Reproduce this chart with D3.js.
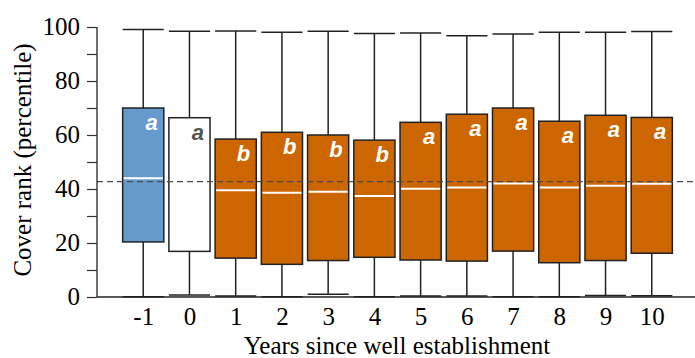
<!DOCTYPE html>
<html>
<head>
<meta charset="utf-8">
<script src="https://cdn.jsdelivr.net/npm/d3@7"></script>
<style>
  html, body { margin: 0; padding: 0; background: #fff; }
  svg { display: block; }
  .serif { font-family: "Liberation Serif", "Times New Roman", Times, serif !important; }
  .sansbi { font-family: "Liberation Sans", Arial, sans-serif !important; font-weight: bold; font-style: italic; }
</style>
</head>
<body>
<svg id="chart" width="695" height="358"></svg>
<script>
// ---- data ----
const years = [-1, 0, 1, 2, 3, 4, 5, 6, 7, 8, 9, 10];
const whiskerLow = [0.1, 0.7, 0.4, 0.1, 1.0, 0.1, 0.4, 0.4, 0.1, 0.1, 0.6, 0.5];
const q1 = [20.4, 16.9, 14.4, 12.1, 13.5, 14.7, 13.7, 13.3, 17.0, 12.7, 13.5, 16.2];
const medians = [44.0, 43.0, 39.5, 38.6, 39.0, 37.4, 40.1, 40.6, 42.0, 40.6, 41.2, 41.9];
const q3 = [70.0, 66.4, 58.5, 61.0, 60.0, 58.1, 64.7, 67.7, 70.0, 65.1, 67.3, 66.5];
const whiskerHigh = [99.1, 98.4, 98.5, 98.1, 98.4, 97.6, 97.8, 96.8, 97.4, 98.1, 98.1, 98.3];
const groups = ["a", "a", "b", "b", "b", "b", "a", "a", "a", "a", "a", "a"];
const periods = ["before", "establishment", "after", "after", "after", "after", "after", "after", "after", "after", "after", "after"];
const referenceLine = 42.7;
const yTicks = [0, 10, 20, 30, 40, 50, 60, 70, 80, 90, 100];
const yLabelTicks = [0, 20, 40, 60, 80, 100];

// ---- styles ----
const fillColor = { before: "#6699CC", establishment: "#FFFFFF", after: "#CC6600" };
const letterColor = { before: "#FFFFFF", establishment: "#555555", after: "#FFFFFF" };

const svg = d3.select("#chart");
const x = d3.scaleLinear().domain([-2, 11]).range([97, 698]);
const y = d3.scaleLinear().domain([0, 100]).range([297, 27]);
const halfW = 0.445;

const rows = years.map((yr, i) => ({
  yr, lo: whiskerLow[i], q1: q1[i], med: medians[i], q3: q3[i], hi: whiskerHigh[i],
  grp: groups[i], period: periods[i]
}));

const g = svg.append("g");

// whiskers
g.selectAll(".whisk").data(rows).join("line")
  .attr("x1", d => x(d.yr)).attr("x2", d => x(d.yr))
  .attr("y1", d => y(d.hi)).attr("y2", d => y(d.lo))
  .attr("stroke", "#222").attr("stroke-width", 1.5);
// caps
g.selectAll(".capHi").data(rows).join("line")
  .attr("x1", d => x(d.yr - halfW)).attr("x2", d => x(d.yr + halfW))
  .attr("y1", d => y(d.hi)).attr("y2", d => y(d.hi))
  .attr("stroke", "#222").attr("stroke-width", 1.5);
g.selectAll(".capLo").data(rows).join("line")
  .attr("x1", d => x(d.yr - halfW)).attr("x2", d => x(d.yr + halfW))
  .attr("y1", d => y(d.lo)).attr("y2", d => y(d.lo))
  .attr("stroke", "#222").attr("stroke-width", 1.5);

// boxes
g.selectAll(".box").data(rows).join("rect")
  .attr("x", d => x(d.yr - halfW))
  .attr("width", d => x(d.yr + halfW) - x(d.yr - halfW))
  .attr("y", d => y(d.q3))
  .attr("height", d => y(d.q1) - y(d.q3))
  .attr("fill", d => fillColor[d.period])
  .attr("stroke", "#222").attr("stroke-width", 1.5);

// medians
g.selectAll(".med").data(rows).join("line")
  .attr("x1", d => x(d.yr - halfW) + 1).attr("x2", d => x(d.yr + halfW) - 1)
  .attr("y1", d => y(d.med)).attr("y2", d => y(d.med))
  .attr("stroke", "#fff").attr("stroke-width", 2);

// letters
g.selectAll(".lbl").data(rows).join("text")
  .attr("class", "sansbi")
  .attr("x", d => x(d.yr + halfW) - 6)
  .attr("y", d => y(d.q3) + 22)
  .attr("text-anchor", "end")
  .style("font-size", "22px")
  .attr("fill", d => letterColor[d.period])
  .text(d => d.grp);

// reference dashed line
svg.append("line")
  .attr("x1", x(-2)).attr("x2", 695)
  .attr("y1", y(referenceLine)).attr("y2", y(referenceLine))
  .attr("stroke", "#4a4a4a").attr("stroke-width", 1.2)
  .attr("stroke-dasharray", "6,4");

// y axis
const yAxis = d3.axisLeft(y).tickValues(yTicks).tickSize(10)
  .tickFormat(d => yLabelTicks.includes(d) ? d : "");
const ya = svg.append("g").attr("transform", `translate(${x(-2)},0)`).call(yAxis);
ya.attr("font-family", null).attr("font-size", null);
ya.select(".domain").attr("stroke", "#222").attr("stroke-width", 1.3).attr("d", `M0,${y(100)}V${y(0)}`);
ya.selectAll(".tick line").attr("stroke", "#333").attr("stroke-width", 1.2);
ya.selectAll(".tick text")
  .attr("class", "serif")
  .style("font-size", "25px").attr("fill", "#000")
  .attr("x", -17).attr("dy", "0.28em");

// x axis
const xAxis = d3.axisBottom(x).tickValues(years).tickSize(0).tickFormat(d => d);
const xa = svg.append("g").attr("transform", `translate(0,${y(0)})`).call(xAxis);
xa.attr("font-family", null).attr("font-size", null);
xa.select(".domain").attr("stroke", "#222").attr("stroke-width", 1.3).attr("d", `M${x(-2)},0H695`);
xa.selectAll(".tick text")
  .attr("class", "serif")
  .style("font-size", "25px").attr("fill", "#000")
  .attr("y", 0).attr("dy", 28);

// axis titles
svg.append("text")
  .attr("class", "serif")
  .attr("x", 397).attr("y", 354)
  .attr("text-anchor", "middle")
  .style("font-size", "25px").attr("fill", "#000")
  .text("Years since well establishment");

svg.append("text")
  .attr("class", "serif")
  .attr("transform", "translate(31,160) rotate(-90)")
  .attr("text-anchor", "middle")
  .style("font-size", "25px").attr("fill", "#000")
  .text("Cover rank (percentile)");
</script>
</body>
</html>
